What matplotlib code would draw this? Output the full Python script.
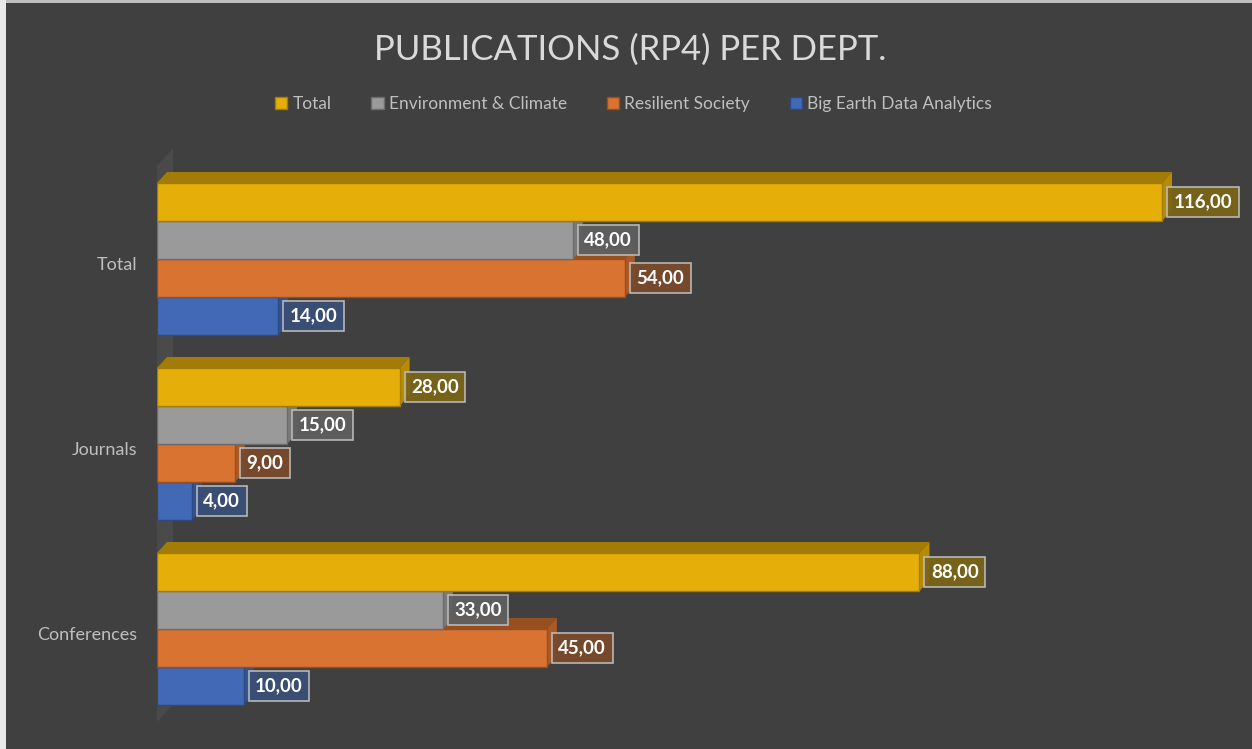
import matplotlib
matplotlib.use("Agg")
import matplotlib.pyplot as plt
from matplotlib.patches import Polygon, Patch, Rectangle
import numpy as np

# data
categories = ["Total", "Journals", "Conferences"]
series_names = ["Total", "Environment & Climate", "Resilient Society", "Big Earth Data Analytics"]
total_vals = [116, 28, 88]
env_vals = [48, 15, 33]
resil_vals = [54, 9, 45]
bigearth_vals = [14, 4, 10]
title = "PUBLICATIONS (RP4) PER DEPT."

front_colors = ["#E6AE08", "#9A9A9A", "#D87332", "#4169B5"]
top_colors = ["#A27C06", "#6C6C6C", "#984F20", "#2D4A80"]
side_colors = ["#B88B06", "#7A7A7A", "#AA5A24", "#33528F"]
box_colors = ["#7B6418", "#5F5F5F", "#7A4A2C", "#3A4F78"]
bg = "#404040"

plt.rcParams['font.family'] = ['Lato', 'DejaVu Sans']

fig = plt.figure(figsize=(12.52, 7.49), dpi=100, facecolor=bg)
W, H = 1252, 749
# axes: x px 157..1240 -> 0..125 ; y px 140..740
ax = fig.add_axes([157 / W, 1 - 740 / H, (1240 - 157) / W, 600 / H])
ax.set_facecolor("none")
ax.set_xlim(0, 125)
ylo, yhi = (740 - 259) / 38, (140 - 259) / 38
ax.set_ylim(ylo, yhi)
for s in ax.spines.values():
    s.set_visible(False)
ax.set_xticks([])

group_gap = 185 / 38
centers = np.arange(len(categories)) * group_gap
ax.set_yticks(centers + 0.12)
ax.set_yticklabels(categories, color="#BFBFBF", fontsize=13)
ax.tick_params(axis="y", length=0, pad=14)

dx = 10 / (1083 / 125)
dy = -11 / 38

# left wall
wall_top = centers[0] - 2 - 0.45
wall_bot = centers[-1] + 2 + 0.45
ax.add_patch(Polygon([(0, wall_bot), (0, wall_top), (dx * 1.6, wall_top + dy * 1.6),
                      (dx * 1.6, wall_bot + dy * 1.6)], closed=True,
                     facecolor="#4A4A4A", edgecolor="none", zorder=1))

all_vals = [total_vals, env_vals, resil_vals, bigearth_vals]
offsets = [-1.5, -0.5, 0.5, 1.5]
for si in range(4):
    z = 10 - si * 2
    ys = centers + offsets[si]
    vals = all_vals[si]
    ax.barh(ys, vals, height=1.0, color=front_colors[si], edgecolor=top_colors[si],
            linewidth=1.0, zorder=z + 1)
    for y, v in zip(ys, vals):
        top = y - 0.5
        bot = y + 0.5
        ax.add_patch(Polygon([(0, top), (v, top), (v + dx, top + dy), (dx, top + dy)],
                             closed=True, facecolor=top_colors[si], edgecolor="none", zorder=z))
        ax.add_patch(Polygon([(v, top), (v, bot), (v + dx, bot + dy), (v + dx, top + dy)],
                             closed=True, facecolor=side_colors[si], edgecolor="none", zorder=z))
        ax.text(v + dx * 1.15, y, f"{v:.2f}".replace(".", ","), ha="left", va="center",
                color="white", fontsize=13.5, fontweight="bold", zorder=20,
                bbox=dict(boxstyle="square,pad=0.35", facecolor=box_colors[si],
                          edgecolor="#BDBDBD", linewidth=1.2, alpha=0.95))

fig.text(0.503, 1 - 50 / H, title, ha="center", va="center", color="#D9D9D9",
         fontsize=25)

handles = [Patch(facecolor=c, edgecolor=e) for c, e in zip(front_colors, top_colors)]
leg = fig.legend(handles, series_names, loc="center", bbox_to_anchor=(0.506, 1 - 104 / H),
                 ncol=4, frameon=False, fontsize=12.5, handlelength=0.7, handleheight=0.7,
                 handletextpad=0.3, columnspacing=2.3, labelcolor="#BFBFBF")

# light frame edge at top/left
fig.patches.append(Rectangle((0, 1 - 3 / H), 1, 3 / H, transform=fig.transFigure,
                             facecolor="#BFBFBF", edgecolor="none"))
fig.patches.append(Rectangle((0, 0), 6 / W, 1, transform=fig.transFigure,
                             facecolor="#E8E8E8", edgecolor="none"))

fig.savefig("out.png", dpi=100, facecolor=bg)
